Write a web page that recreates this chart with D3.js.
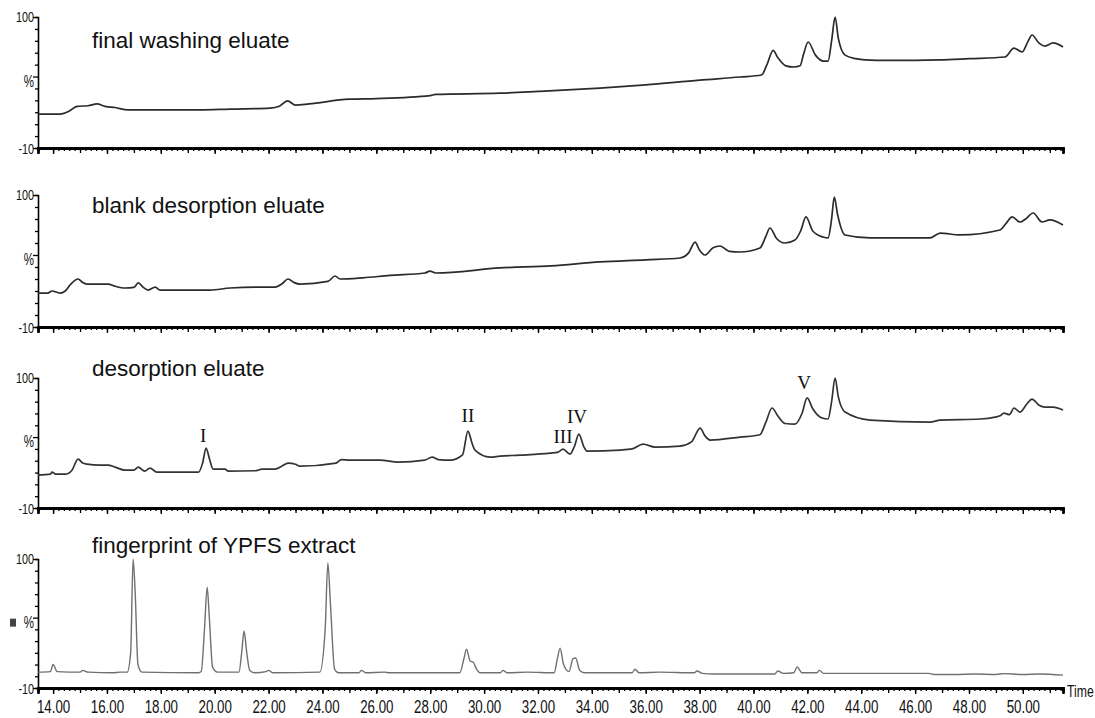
<!DOCTYPE html>
<html><head><meta charset="utf-8">
<script src="https://cdn.jsdelivr.net/npm/d3@7"></script>
<style>body{margin:0;background:#fff}</style>
</head><body>
<svg id="chart" width="1095" height="718"></svg>
<script>
// ---------- data ----------
const panelTitles = ["final washing eluate", "blank desorption eluate", "desorption eluate", "fingerprint of YPFS extract"];

const washTimes  = [13.44,14.26,14.6,14.89,15.3,15.63,15.93,16.3,16.78,19.46,20.57,22.05,22.4,22.7,23.0,23.5,25.0,26.0,28.0,28.2,30.6,32.0,34.3,36.0,38.0,39.5,40.3,40.5,40.73,40.9,41.2,41.5,41.73,41.85,42.03,42.3,42.6,42.77,42.9,43.03,43.15,43.4,43.8,44.14,45.0,46.93,48.0,49.34,49.67,49.97,50.2,50.34,50.6,50.82,51.12,51.49];
const washValues = [18.5,18.5,21,25,25.5,27,25,24,22,22,22.7,23.5,25,29.5,26,27,31,31.5,34,35,36,37.5,40.3,43,47,49.6,51.3,60,72,66,59,58,59,68,79,68,63,63,80,100,82,68,65,64,63.5,64,65,66.4,73.9,70.6,80,84.9,78,75.6,78.2,74.8];

const blankTimes  = [13.44,13.8,13.96,14.26,14.45,14.63,14.93,15.1,15.26,15.74,16.04,16.3,16.67,17.0,17.16,17.35,17.53,17.79,17.97,19.83,20.57,21.68,22.24,22.5,22.72,22.95,23.17,24.2,24.47,24.65,25.5,26.5,27.8,27.99,28.2,30.59,32.5,34.3,36.0,37.27,37.6,37.83,38.0,38.2,38.5,38.76,39.1,39.5,40.24,40.45,40.61,40.85,41.17,41.54,41.75,41.95,42.2,42.58,42.77,42.9,43.0,43.12,43.4,44.33,46.55,46.93,47.67,49.15,49.4,49.6,49.89,50.1,50.38,50.71,51.0,51.49];
const blankValues = [18.3,18.3,20,18.3,20,25,30,27,25.8,25.8,25.8,24,22.5,23,26.7,23,20.8,23.3,20.8,20.8,22.5,23.3,23.3,26,30,27,25.8,28,32.5,30,31,33,35,36.5,35,39.2,41,44.2,46,47.5,52,60.8,54,50,56,57.5,53,52.5,55.8,65,72.5,64,60,62.5,70,81.7,70,65,64.2,80,98.3,84,66.7,64.2,64.2,68.3,66.7,70.8,77,81.7,77.5,80,85,77.5,79.2,75];

const desorbTimes  = [13.44,13.9,13.96,14.1,14.45,14.7,14.93,15.1,15.26,15.74,16.04,16.3,16.67,17.0,17.16,17.4,17.6,17.85,19.4,19.55,19.68,19.8,19.94,20.38,20.5,21.5,21.76,22.24,22.5,22.72,23.0,23.17,24.5,24.7,25.0,26.14,26.81,27.8,28.07,28.3,28.74,29.2,29.4,29.55,29.66,30.22,30.59,31.33,32.45,32.75,32.93,33.19,33.35,33.52,33.7,33.82,35.05,35.5,35.9,36.35,37.27,37.7,38.02,38.2,38.39,39.5,40.24,40.45,40.69,40.9,41.17,41.54,41.8,41.99,42.2,42.55,42.77,42.9,43.03,43.15,43.4,44.33,46.55,46.93,48.41,48.97,49.15,49.3,49.5,49.67,49.89,50.15,50.34,50.6,50.82,51.12,51.49];
const desorbValues = [17.8,18.6,20.3,18.6,18.6,22,31.4,28,27.1,26.3,26.3,24.6,22,22,24.6,21.2,23.7,20.3,20.3,28,40.7,32,22.9,22.9,21.2,21.5,22.9,22.9,25.5,28,27,25.4,28,31,30.5,30.5,28.8,30.5,33.1,31,30.5,35,55.1,45,39,33.1,33.9,34.7,36.4,37.3,39.8,35.6,42,52.5,42,38.1,39,40,44.1,41.5,42.4,46,57.6,51,47.5,50,52,62,74.6,68,61.5,61,70,83.1,74,66.1,65.3,80,100,84,71.2,64.4,62.7,64.4,65.3,66.9,68,70.3,69,74.6,71.2,78,82.2,77,75.4,75.4,72.9];

const fpTimes  = [13.44,13.9,14.0,14.15,15.0,15.1,15.3,16.2,16.5,16.75,16.88,16.97,17.05,17.15,17.3,19.4,19.5,19.62,19.72,19.8,19.92,20.1,20.9,21.0,21.09,21.18,21.3,21.5,21.9,22.0,22.15,23.9,24.1,24.2,24.3,24.45,24.6,25.35,25.45,25.6,26.3,26.5,29.1,29.25,29.35,29.48,29.6,29.7,29.85,30.6,30.7,30.85,31.6,32.6,32.72,32.82,32.95,33.15,33.3,33.4,33.55,33.75,35.5,35.6,35.75,36.5,37.8,37.9,38.1,38.5,40.8,40.9,41.1,41.5,41.62,41.8,42.35,42.45,42.6,46.5,46.7,47.5,48.2,49.0,49.3,50.0,50.6,51.49];
const fpValues = [3.5,4,10,4,3.5,5,3.5,3,3.5,3.5,20,100,70,10,3.5,3,4,40,76,50,8,3.5,3.5,20,38.6,22,5,3,4,5,3,3.5,40,96.6,60,6,3,3,5,3,3.5,3,3,15,23,13,12,7,3,3,5,3,3.5,3,15,24,10,4,15,15.6,5,3,3,6,3,3.5,3,4.5,2.5,2,2,4.5,2.5,3,8,3,3,5,2.5,2.5,1.5,1.5,2,1.5,2.3,1.5,2,1];

const xTickLabels = ["14.00","16.00","18.00","20.00","22.00","24.00","26.00","28.00","30.00","32.00","34.00","36.00","38.00","40.00","42.00","44.00","46.00","48.00","50.00"];
const yTickLabels = ["100", "%", "-10"];
const peakLabels = ["I", "II", "III", "IV", "V"];
const peakLabelTimes = [19.68, 29.4, 32.93, 33.52, 41.99];

// ---------- layout ----------
const svg = d3.select("#chart");
svg.append("rect").attr("width",1095).attr("height",718).attr("fill","#fff");

const x = d3.scaleLinear().domain([13.44, 51.49]).range([38, 1063]);
const panelTops = [17, 195, 378, 559];
const panelBottoms = [148, 327, 508, 688];
const titleY = [48, 213, 376, 553];
const lineColors = ["#2b2b2b", "#2b2b2b", "#333", "#707070"];
const sans = "'Liberation Sans',Arial,sans-serif";
const SX = 0.72; // horizontal squeeze to mimic a narrow font

function narrowText(sel, px, py, txt, size, anchor) {
  return sel.append("text")
    .attr("transform", `translate(${px},${py}) scale(${SX},1)`)
    .attr("text-anchor", anchor || "start")
    .attr("font-family", sans).attr("font-size", size).attr("fill", "#111")
    .text(txt);
}

const series = [
  [washTimes, washValues],
  [blankTimes, blankValues],
  [desorbTimes, desorbValues],
  [fpTimes, fpValues]
];

series.forEach((s, i) => {
  const y = d3.scaleLinear().domain([-10, 100]).range([panelBottoms[i], panelTops[i]]);
  const g = svg.append("g");

  // y axis
  const yAxis = d3.axisLeft(y).tickValues(d3.range(-10, 101, 10)).tickSize(3).tickFormat("");
  const ya = g.append("g").attr("transform", `translate(38,0)`).call(yAxis);
  ya.select(".domain").attr("stroke","#000").attr("stroke-width",1.6);
  ya.selectAll(".tick line").attr("stroke","#000").attr("stroke-width",1.3);
  ya.selectAll(".tick").filter(d => d === 100 || d === -10 || d === 50).select("line").attr("x2", -5);

  narrowText(g, 34, y(100) + 5, yTickLabels[0], 15, "end");
  narrowText(g, 34, y(-10) + 6, yTickLabels[2], 15, "end");
  narrowText(g, 34, y(50) + 10, yTickLabels[1], 16, "end");
  if (i === 3) {
    g.append("rect").attr("x", 10).attr("y", y(50) + 1).attr("width", 6).attr("height", 8).attr("fill", "#444");
  }

  // x axis
  const bottom = panelBottoms[i];
  const minor = d3.axisBottom(x).tickValues(d3.range(14, 51.5, 0.2)).tickSize(3).tickFormat("");
  const mid = d3.axisBottom(x).tickValues(d3.range(14, 51.5, 1)).tickSize(5).tickFormat("");
  const major = d3.axisBottom(x).tickValues(d3.range(14, 51, 2)).tickSize(6)
      .tickFormat((d, k) => i === 3 ? xTickLabels[k] : "");
  [minor, mid, major].forEach(ax => {
    const a = g.append("g").attr("transform", `translate(0,${bottom})`).call(ax);
    a.select(".domain").attr("stroke","#000").attr("stroke-width",2.4);
    a.selectAll(".tick line").attr("stroke","#000").attr("stroke-width",1.3);
    a.selectAll(".tick text").attr("font-family", sans).attr("font-size", 18.5).attr("fill","#111")
      .attr("y", 0).attr("dy", 0)
      .attr("transform", `translate(0,25) scale(${SX},1)`);
  });

  // trace
  const data = s[0].map((t, k) => [t, s[1][k]]);
  const line = d3.line().x(d => x(d[0])).y(d => y(d[1])).curve(d3.curveMonotoneX);
  g.append("path").datum(data).attr("d", line).attr("fill","none")
    .attr("stroke", lineColors[i]).attr("stroke-width", i === 3 ? 1.4 : 1.7).attr("stroke-linejoin","round");

  // title
  g.append("text").attr("x", 92).attr("y", titleY[i]).attr("font-family", sans)
    .attr("font-size", 22.5).attr("fill","#111").text(panelTitles[i]);

  if (i === 2) {
    const offsets = [6, 9, 6, 11, 9];
    const dx = [-3, 0, 0, -2, -3];
    peakLabelTimes.forEach((t, k) => {
      const idx = s[0].indexOf(t);
      const v = s[1][idx];
      g.append("text").attr("x", x(t) + dx[k]).attr("y", y(v) - offsets[k])
        .attr("text-anchor","middle").attr("font-family","'Liberation Serif','Times New Roman',serif")
        .attr("font-size", 19).attr("fill","#111").text(peakLabels[k]);
    });
  }
});

narrowText(svg, 1067, 697, "Time", 17, "start");
</script>
</body></html>
